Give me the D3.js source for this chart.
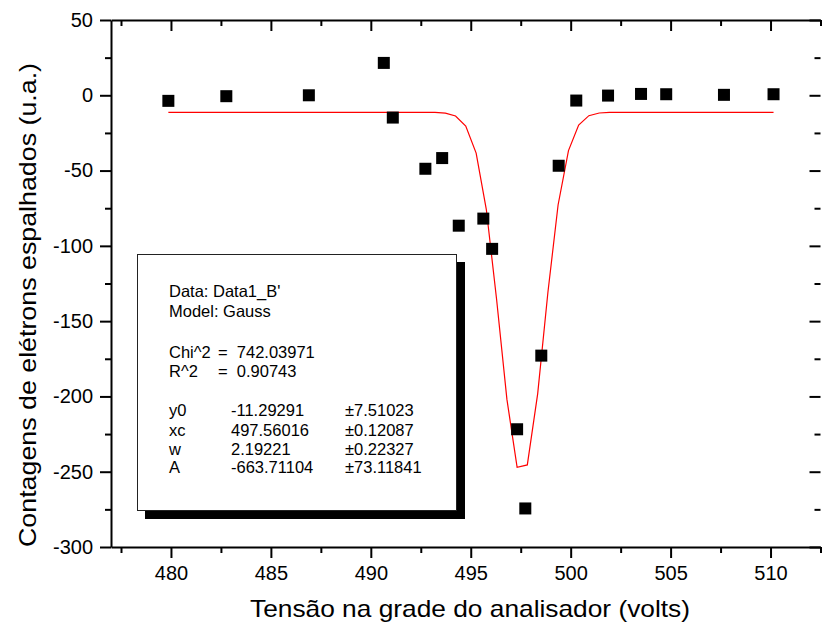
<!DOCTYPE html>
<html>
<head>
<meta charset="utf-8">
<script src="https://cdn.jsdelivr.net/npm/d3@7"></script>
<style>
  html, body { margin: 0; padding: 0; background: #fff; }
  svg { display: block; font-family: "Liberation Sans", Arial, sans-serif; }
</style>
</head>
<body>
<svg id="chart" width="822" height="633"></svg>
<script>
// ---- data ----
const dataX = [479.87, 482.77, 486.90, 490.65, 491.10, 492.73, 493.57, 494.40, 495.63, 496.07,
               497.32, 497.73, 498.53, 499.40, 500.28, 501.87, 503.52, 504.78, 507.67, 510.15];
const dataY = [-3.7, -0.6, 0.0, 21.5, -14.8, -48.8, -41.7, -86.6, -81.9, -102.0,
               -221.8, -274.4, -172.9, -46.8, -3.5, -0.2, 0.9, 0.7, 0.3, 0.7];

const fitX = [479.87, 480.38, 480.90, 481.41, 481.92, 482.44, 482.95, 483.46, 483.98, 484.49,
              485.00, 485.52, 486.03, 486.54, 487.06, 487.57, 488.08, 488.59, 489.11, 489.62,
              490.13, 490.65, 491.16, 491.67, 492.19, 492.70, 493.21, 493.73, 494.24, 494.75,
              495.27, 495.78, 496.29, 496.81, 497.32, 497.83, 498.35, 498.86, 499.37, 499.89,
              500.40, 500.91, 501.43, 501.94, 502.45, 502.97, 503.48, 503.99, 504.50, 505.02,
              505.53, 506.04, 506.56, 507.07, 507.58, 508.10, 508.61, 509.12, 509.64, 510.15];
const fitY = [-11.29, -11.29, -11.29, -11.29, -11.29, -11.29, -11.29, -11.29, -11.29, -11.29,
              -11.29, -11.29, -11.29, -11.29, -11.29, -11.29, -11.29, -11.29, -11.29, -11.29,
              -11.29, -11.29, -11.29, -11.29, -11.29, -11.31, -11.39, -11.83, -13.75, -20.39,
              -38.36, -75.88, -135.12, -201.98, -247.10, -245.50, -198.13, -130.99, -72.87, -36.74,
              -19.74, -13.54, -11.77, -11.38, -11.30, -11.29, -11.29, -11.29, -11.29, -11.29,
              -11.29, -11.29, -11.29, -11.29, -11.29, -11.29, -11.29, -11.29, -11.29, -11.29];

const xMajorTicks = [480, 485, 490, 495, 500, 505, 510];
const xMinorTicks = [477.5, 482.5, 487.5, 492.5, 497.5, 502.5, 507.5, 512.5];
const yMajorTicks = [50, 0, -50, -100, -150, -200, -250, -300];
const yMinorTicks = [25, -25, -75, -125, -175, -225, -275];

const xTitle = "Tensão na grade do analisador (volts)";
const yTitle = "Contagens de elétrons espalhados (u.a.)";

const legendLines = [
  ["Data: Data1_B'"],
  ["Model: Gauss"],
  null,
  ["Chi^2", "=  742.03971"],
  ["R^2", "=  0.90743"],
  null,
  ["y0", "-11.29291", "±7.51023"],
  ["xc", "497.56016", "±0.12087"],
  ["w", "2.19221", "±0.22327"],
  ["A", "-663.71104", "±73.11841"]
];

(function () {
  const svg = d3.select("#chart");
  const x = d3.scaleLinear().domain([477, 512.5]).range([111, 820.5]);
  const y = d3.scaleLinear().domain([-300, 50]).range([547, 20]);
  const pLeft = x.range()[0], pRight = x.range()[1], pTop = y.range()[1], pBottom = y.range()[0];
  const plainFmt = d => String(d);

  function styleAxis(g, hideDomain) {
    g.selectAll("line").attr("stroke", "#000").attr("stroke-width", 2);
    g.selectAll("path.domain").attr("stroke", "#000").attr("stroke-width", 2);
    if (hideDomain) g.select("path.domain").remove();
    g.selectAll("text").attr("fill", "#000").style("font-size", "20px")
      .style("font-family", '"Liberation Sans", Arial, sans-serif');
  }

  // bottom axis (outward ticks)
  svg.append("g").attr("transform", `translate(0,${pBottom})`)
    .call(d3.axisBottom(x).tickValues(xMinorTicks).tickSize(6).tickSizeOuter(0).tickFormat(""))
    .call(g => styleAxis(g, true));
  svg.append("g").attr("transform", `translate(0,${pBottom})`)
    .call(d3.axisBottom(x).tickValues(xMajorTicks).tickSize(11).tickSizeOuter(0).tickPadding(8).tickFormat(plainFmt))
    .call(g => styleAxis(g, false));

  // top axis (inward ticks)
  svg.append("g").attr("transform", `translate(0,${pTop})`)
    .call(d3.axisTop(x).tickValues(xMinorTicks).tickSize(-6).tickSizeOuter(0).tickFormat(""))
    .call(g => styleAxis(g, true));
  svg.append("g").attr("transform", `translate(0,${pTop})`)
    .call(d3.axisTop(x).tickValues(xMajorTicks).tickSize(-11).tickSizeOuter(0).tickFormat(""))
    .call(g => styleAxis(g, false));

  // left axis (outward ticks)
  svg.append("g").attr("transform", `translate(${pLeft},0)`)
    .call(d3.axisLeft(y).tickValues(yMinorTicks).tickSize(6).tickSizeOuter(0).tickFormat(""))
    .call(g => styleAxis(g, true));
  svg.append("g").attr("transform", `translate(${pLeft},0)`)
    .call(d3.axisLeft(y).tickValues(yMajorTicks).tickSize(11).tickSizeOuter(0).tickPadding(7).tickFormat(plainFmt))
    .call(g => styleAxis(g, false));

  // right axis (inward ticks)
  svg.append("g").attr("transform", `translate(${pRight},0)`)
    .call(d3.axisRight(y).tickValues(yMinorTicks).tickSize(-6).tickSizeOuter(0).tickFormat(""))
    .call(g => styleAxis(g, true));
  svg.append("g").attr("transform", `translate(${pRight},0)`)
    .call(d3.axisRight(y).tickValues(yMajorTicks).tickSize(-11).tickSizeOuter(0).tickFormat(""))
    .call(g => styleAxis(g, true));

  // fit curve
  const fitData = fitX.map((v, i) => [v, fitY[i]]);
  svg.append("path")
    .datum(fitData)
    .attr("fill", "none")
    .attr("stroke", "#ff0000")
    .attr("stroke-width", 1.2)
    .attr("d", d3.line().x(d => x(d[0])).y(d => y(d[1])));

  // data points
  const pts = dataX.map((v, i) => [v, dataY[i]]);
  const ms = 12;
  svg.append("g").selectAll("rect").data(pts).join("rect")
    .attr("x", d => x(d[0]) - ms / 2)
    .attr("y", d => y(d[1]) - ms / 2)
    .attr("width", ms).attr("height", ms)
    .attr("fill", "#000");

  // legend box with shadow
  const lg = svg.append("g");
  lg.append("rect").attr("x", 145).attr("y", 262).attr("width", 320).attr("height", 257).attr("fill", "#000");
  lg.append("rect").attr("x", 137.5).attr("y", 254.5).attr("width", 319).attr("height", 256)
    .attr("fill", "#fff").attr("stroke", "#222").attr("stroke-width", 1);

  const lineY = [297, 317, null, 358, 377, null, 416, 436, 455, 473];
  const colX = [169, 231, 345];
  legendLines.forEach((row, i) => {
    if (!row) return;
    row.forEach((t, j) => {
      let cx = colX[j];
      if (row.length === 2 && j === 1) cx = 218;
      lg.append("text").attr("x", cx).attr("y", lineY[i])
        .style("font-size", "16.5px").attr("fill", "#000")
        .style("white-space", "pre")
        .text(t);
    });
  });

  // axis titles
  svg.append("text")
    .attr("x", 470).attr("y", 617)
    .attr("text-anchor", "middle")
    .style("font-size", "24px").attr("fill", "#000")
    .attr("textLength", 440).attr("lengthAdjust", "spacingAndGlyphs")
    .text(xTitle);

  svg.append("text")
    .attr("transform", "translate(36,305) rotate(-90)")
    .attr("text-anchor", "middle")
    .style("font-size", "24px").attr("fill", "#000")
    .attr("textLength", 484).attr("lengthAdjust", "spacingAndGlyphs")
    .text(yTitle);
})();
</script>
</body>
</html>
